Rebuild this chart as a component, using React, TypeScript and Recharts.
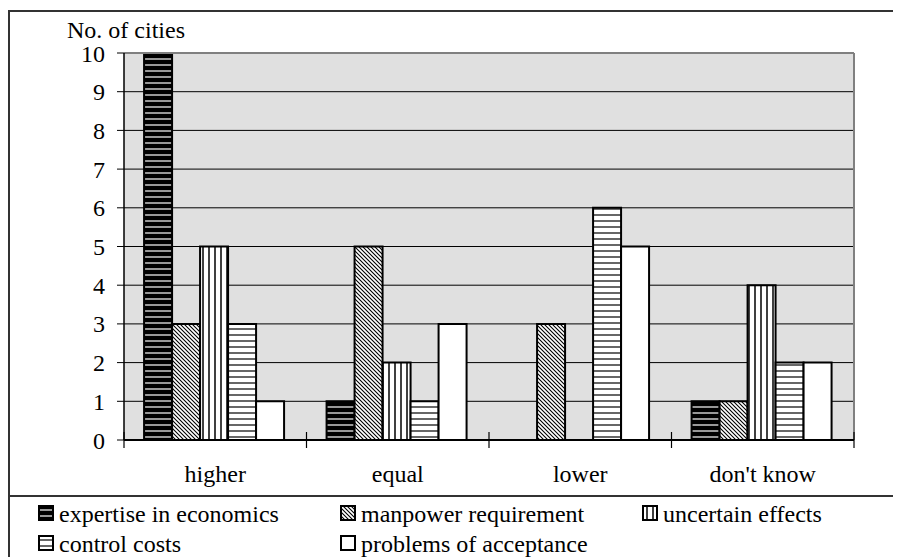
import React from "react";
import {
  BarChart,
  Bar,
  XAxis,
  YAxis,
  CartesianGrid,
  ReferenceLine,
  Legend,
} from "recharts";

// categories and series
const categories = ["higher", "equal", "lower", "don't know"];
const expertise = [10, 1, 0, 1];
const manpower = [3, 5, 3, 1];
const uncertain = [5, 2, 0, 4];
const controlCosts = [3, 1, 6, 2];
const acceptance = [1, 3, 5, 2];
const yTicks = [0, 1, 2, 3, 4, 5, 6, 7, 8, 9, 10];

const series = [
  { key: "expertise", name: "expertise in economics", fill: "url(#pat-expertise)" },
  { key: "manpower", name: "manpower requirement", fill: "url(#pat-manpower)" },
  { key: "uncertain", name: "uncertain effects", fill: "url(#pat-uncertain)" },
  { key: "control", name: "control costs", fill: "url(#pat-control)" },
  { key: "acceptance", name: "problems of acceptance", fill: "#ffffff" },
];

const data = categories.map((category, i) => ({
  category,
  expertise: expertise[i],
  manpower: manpower[i],
  uncertain: uncertain[i],
  control: controlCosts[i],
  acceptance: acceptance[i],
}));

const FONT = "Liberation Serif, Times New Roman, serif";
const FONT_SIZE = 24;
const WIDTH = 893;
const HEIGHT = 549;
const MARGIN = { top: 45, right: 47, left: 0, bottom: 57 };
const Y_AXIS_W = 116;
const HALF_BAND = (WIDTH - MARGIN.right - Y_AXIS_W) / categories.length / 2;

// Category label plus the boundary tick marks that cross the axis
const CategoryTick = (props: any) => {
  const { x, y, payload, index } = props;
  const half = payload && payload.offset ? payload.offset : HALF_BAND;
  return (
    <g>
      <line x1={x - half} x2={x - half} y1={y - 8} y2={y + 8} stroke="#000" strokeWidth={1.2} />
      {index === categories.length - 1 && (
        <line x1={x + half} x2={x + half} y1={y - 8} y2={y + 8} stroke="#000" strokeWidth={1.2} />
      )}
      <text
        x={x}
        y={y + 42}
        textAnchor="middle"
        style={{ fontFamily: FONT, fontSize: FONT_SIZE }}
        fill="#000"
      >
        {payload.value}
      </text>
    </g>
  );
};

const LegendBox = () => (
  <svg width={WIDTH} height={62} style={{ display: "block" }}>
    <line x1={0} x2={WIDTH} y1={1} y2={1} stroke="#333" strokeWidth={2} />
    {series.map((s, i) => {
      const col = i % 3;
      const row = Math.floor(i / 3);
      return (
        <g key={s.key}>
          <rect
            x={31 + col * 302}
            y={11 + row * 30}
            width={14}
            height={14}
            fill={s.fill}
            stroke="#000"
            strokeWidth={2}
          />
          <text
            x={51 + col * 302}
            y={27 + row * 30}
            style={{ fontFamily: FONT, fontSize: FONT_SIZE }}
            fill="#000"
          >
            {s.name}
          </text>
        </g>
      );
    })}
  </svg>
);

const Patterns = () => (
  <svg width={0} height={0} style={{ position: "absolute" }}>
    <defs>
      <pattern id="pat-expertise" patternUnits="userSpaceOnUse" width={6} height={6}>
        <rect width={6} height={6} fill="#000" />
        <line x1={0} x2={6} y1={3} y2={3} stroke="#fff" strokeWidth={1.2} />
      </pattern>
      <pattern id="pat-manpower" patternUnits="userSpaceOnUse" width={4} height={4}>
        <rect width={4} height={4} fill="#fff" />
        <path d="M0,0 L4,4 M-1,3 L1,5 M3,-1 L5,1" stroke="#000" strokeWidth={1.1} />
      </pattern>
      <pattern id="pat-uncertain" patternUnits="userSpaceOnUse" width={6} height={6}>
        <rect width={6} height={6} fill="#fff" />
        <line x1={3} x2={3} y1={0} y2={6} stroke="#000" strokeWidth={1.5} />
      </pattern>
      <pattern id="pat-control" patternUnits="userSpaceOnUse" width={6} height={6}>
        <rect width={6} height={6} fill="#fff" />
        <line x1={0} x2={6} y1={3} y2={3} stroke="#000" strokeWidth={1.2} />
      </pattern>
    </defs>
  </svg>
);

export default function App() {
  return (
    <div style={{ position: "relative", width: WIDTH, height: HEIGHT, overflow: "hidden" }}>
      <Patterns />
      {/* outer frame of the figure */}
      <div style={{ position: "absolute", left: 0, top: 2, width: WIDTH, height: 2, background: "#333" }} />
      <div style={{ position: "absolute", left: 0, top: 2, width: 1.5, height: HEIGHT, background: "#333" }} />
      <BarChart
        width={WIDTH}
        height={HEIGHT}
        data={data}
        margin={MARGIN}
        barCategoryGap="11%"
        barGap={0}
      >
        <CartesianGrid vertical={false} stroke="#000" fill="#e0e0e0" fillOpacity={1} />
        <XAxis
          dataKey="category"
          height={60}
          axisLine={{ stroke: "#000", strokeWidth: 2 }}
          tickLine={false}
          tickSize={0}
          tickMargin={0}
          interval={0}
          tick={<CategoryTick />}
        />
        <YAxis
          width={Y_AXIS_W}
          domain={[0, 10]}
          ticks={yTicks}
          interval={0}
          axisLine={{ stroke: "#000", strokeWidth: 1.5 }}
          tickLine={{ stroke: "#000" }}
          tickSize={7}
          tickMargin={12}
          tick={{ fontFamily: FONT, fontSize: FONT_SIZE, fill: "#000" }}
          label={{
            content: (p: any) => (
              <text
                x={p.viewBox.x + 59}
                y={p.viewBox.y - 15}
                style={{ fontFamily: FONT, fontSize: FONT_SIZE }}
                fill="#000"
              >
                No. of cities
              </text>
            ),
          }}
        />
        <ReferenceLine y={10} stroke="#808080" strokeWidth={2} />
        <ReferenceLine x="don't know" position="end" stroke="#808080" strokeWidth={2} />
        {series.map((s) => (
          <Bar
            key={s.key}
            dataKey={s.key}
            name={s.name}
            fill={s.fill}
            stroke="#000"
            strokeWidth={2}
            isAnimationActive={false}
          />
        ))}
        <Legend
          layout="horizontal"
          verticalAlign="middle"
          align="center"
          wrapperStyle={{ left: 0, top: 487, width: WIDTH, height: 62 }}
          content={() => <LegendBox />}
        />
      </BarChart>
    </div>
  );
}
